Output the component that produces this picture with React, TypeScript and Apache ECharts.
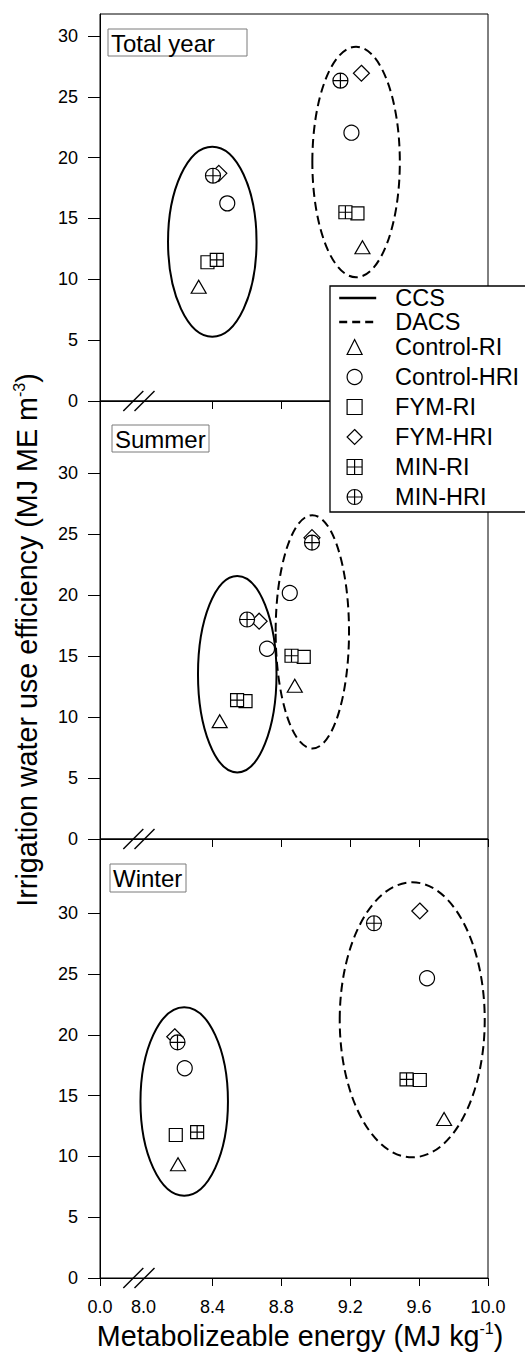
import React, { useEffect, useRef } from 'react';
import * as echarts from 'echarts';

const FONT = '"Liberation Sans", Arial, Helvetica, sans-serif';

const treatments = ['Control-RI', 'Control-HRI', 'FYM-RI', 'FYM-HRI', 'MIN-RI', 'MIN-HRI'];
const systems = ['CCS', 'DACS'];
const panelNames = ['Total year', 'Summer', 'Winter'];

// [x, y] per treatment (order as in `treatments`)
const totalYearCCS = [[8.320, 9.39], [8.486, 16.24], [8.371, 11.40], [8.437, 18.71], [8.425, 11.59], [8.403, 18.51]];
const totalYearDACS = [[9.271, 12.63], [9.207, 22.05], [9.242, 15.42], [9.265, 26.93], [9.172, 15.51], [9.143, 26.32]];
const summerCCS = [[8.442, 9.66], [8.717, 15.59], [8.592, 11.30], [8.671, 17.85], [8.543, 11.38], [8.601, 17.99]];
const summerDACS = [[8.878, 12.56], [8.849, 20.17], [8.930, 14.93], [8.978, 24.70], [8.859, 15.02], [8.978, 24.30]];
const winterCCS = [[8.200, 9.35], [8.239, 17.25], [8.187, 11.76], [8.181, 19.84], [8.311, 12.00], [8.197, 19.38]];
const winterDACS = [[9.745, 13.08], [9.646, 24.65], [9.604, 16.28], [9.604, 30.18], [9.527, 16.34], [9.338, 29.17]];

// ellipses [cx, cy, rx, ry] for CCS then DACS
const totalYearEllipses = [[8.399, 13.09, 0.257, 7.81], [9.234, 19.64, 0.254, 9.47]];
const summerEllipses = [[8.544, 13.51, 0.228, 8.05], [8.980, 16.98, 0.213, 9.56]];
const winterEllipses = [[8.236, 14.51, 0.254, 7.75], [9.560, 21.23, 0.421, 11.31]];

const yTicks = [0, 5, 10, 15, 20, 25, 30];
const xZeroPos = 7.747; // axis value where "0.0" sits (broken axis)
const xTicks = [xZeroPos, 8.4, 8.8, 9.2, 9.6, 10.0];
const xLabelValues = [xZeroPos, 8.0, 8.4, 8.8, 9.2, 9.6, 10.0];
const yMax = [31.8, 35.9, 36.1];

const panelCCS = [totalYearCCS, summerCCS, winterCCS];
const panelDACS = [totalYearDACS, summerDACS, winterDACS];
const panelEllipses = [totalYearEllipses, summerEllipses, winterEllipses];

// layout
const GRID_LEFT = 100;
const GRID_WIDTH = 388;
const gridTops = [14, 401, 839];
const gridHeights = [387, 438, 439];
const labelBoxes = [
  { x: 108, y: 29, w: 139, h: 27 },
  { x: 112, y: 425, w: 97, h: 27 },
  { x: 110, y: 864, w: 76, h: 28 },
];

const symbolDefs: Record<string, { symbol: string; size: number | number[] }> = {
  'Control-RI': { symbol: 'triangle', size: [15, 13] },
  'Control-HRI': { symbol: 'circle', size: 15 },
  'FYM-RI': { symbol: 'rect', size: 13 },
  'FYM-HRI': { symbol: 'diamond', size: [16, 16] },
  'MIN-RI': { symbol: 'path://M0,0L20,0L20,20L0,20ZM10,0L10,20M0,10L20,10', size: 13 },
  'MIN-HRI': { symbol: 'path://M0,10A10,10,0,1,1,20,10A10,10,0,1,1,0,10ZM10,0L10,20M0,10L20,10', size: 15 },
};

const AXIS_TITLE_SIZE = 28.7;

function buildOption() {
  const grid = gridTops.map((top, i) => ({
    left: GRID_LEFT,
    top,
    width: GRID_WIDTH,
    height: gridHeights[i],
    show: true,
    borderColor: '#000',
    borderWidth: 1,
    backgroundColor: 'transparent',
  }));

  const xAxis = gridTops.map((_, i) => ({
    type: 'value',
    gridIndex: i,
    min: xZeroPos,
    max: 10,
    axisLine: { show: true, onZero: false, lineStyle: { color: '#000', width: 1 } },
    axisTick: { show: true, length: 8, customValues: xTicks, lineStyle: { color: '#000', width: 1 } },
    axisLabel:
      i === 2
        ? {
            show: true,
            customValues: xLabelValues,
            formatter: (v: number) => (v < 7.9 ? '0.0' : Number(v).toFixed(1)),
            fontSize: 18,
            color: '#000',
            margin: 20,
            fontFamily: FONT,
          }
        : { show: false },
    splitLine: { show: false },
  }));

  const yAxis = gridTops.map((_, i) => ({
    type: 'value',
    gridIndex: i,
    min: 0,
    max: yMax[i],
    axisLine: { show: true, onZero: false, lineStyle: { color: '#000', width: 1 } },
    axisTick: { show: true, length: 12, customValues: yTicks, lineStyle: { color: '#000', width: 1 } },
    axisLabel: { show: true, customValues: yTicks, fontSize: 18, color: '#000', margin: 22, fontFamily: FONT },
    splitLine: { show: false },
  }));

  const series: any[] = [
    {
      type: 'line',
      name: systems[0],
      xAxisIndex: 0,
      yAxisIndex: 0,
      data: [],
      symbol: 'none',
      lineStyle: { color: '#000', width: 2.4, type: 'solid' },
      itemStyle: { color: 'rgba(0,0,0,0)', borderWidth: 0, opacity: 0 },
    },
    {
      type: 'line',
      name: systems[1],
      xAxisIndex: 0,
      yAxisIndex: 0,
      data: [],
      symbol: 'none',
      lineStyle: { color: '#000', width: 2.4, type: [8, 5] },
      itemStyle: { color: 'rgba(0,0,0,0)', borderWidth: 0, opacity: 0 },
    },
  ];

  gridTops.forEach((_, p) => {
    series.push({
      type: 'custom',
      name: panelNames[p] + ' ellipses',
      xAxisIndex: p,
      yAxisIndex: p,
      silent: true,
      clip: false,
      z: 4,
      encode: { x: 0, y: 1 },
      data: panelEllipses[p].map((e, k) => [e[0], e[1], e[2], e[3], k]),
      renderItem: (params: any, api: any) => {
        const c = api.coord([api.value(0), api.value(1)]);
        const s = api.size([api.value(2), api.value(3)]);
        const dashed = api.value(4) === 1;
        return {
          type: 'ellipse',
          shape: { cx: c[0], cy: c[1], rx: s[0], ry: s[1] },
          style: { fill: 'none', stroke: '#000', lineWidth: 2, lineDash: dashed ? [9, 5] : null },
        };
      },
    });
    treatments.forEach((t, k) => {
      const def = symbolDefs[t];
      series.push({
        type: 'scatter',
        name: t,
        xAxisIndex: p,
        yAxisIndex: p,
        symbol: def.symbol,
        symbolSize: def.size,
        z: 3,
        itemStyle: { color: '#fff', borderColor: '#000', borderWidth: 1.2, opacity: 1 },
        data: [panelCCS[p][k], panelDACS[p][k]],
      });
    });
  });

  const graphic: any[] = [
    {
      type: 'rect',
      shape: { x: 330, y: 286, width: 240, height: 226 },
      style: { fill: '#fff', stroke: '#000', lineWidth: 1.3 },
      z: 10,
    },
  ];

  labelBoxes.forEach((b, i) => {
    graphic.push({
      type: 'rect',
      shape: { x: b.x, y: b.y, width: b.w, height: b.h },
      style: { fill: '#fff', stroke: '#7a7a7a', lineWidth: 1 },
      z: 10,
    });
    graphic.push({
      type: 'text',
      x: b.x + 3,
      y: b.y + b.h / 2 + 0.5,
      z: 11,
      style: {
        text: panelNames[i],
        fontSize: 24,
        fontFamily: FONT,
        fill: '#000',
        align: 'left',
        verticalAlign: 'middle',
      },
    });
  });

  // axis break marks on each panel's x axis
  gridTops.forEach((top, i) => {
    const y0 = top + gridHeights[i];
    [133.3, 144.5].forEach((cx) => {
      graphic.push({
        type: 'line',
        shape: { x1: cx - 10, y1: y0 + 10, x2: cx + 10, y2: y0 - 10 },
        style: { stroke: '#000', lineWidth: 1.4 },
        z: 12,
      });
    });
  });

  const titleRich = {
    a: { fontSize: AXIS_TITLE_SIZE, fontFamily: FONT, fill: '#000', lineHeight: 32 },
    s: { fontSize: 16, fontFamily: FONT, fill: '#000', verticalAlign: 'top', lineHeight: 18 },
  };

  graphic.push({
    type: 'text',
    x: 27,
    y: 640,
    rotation: Math.PI / 2,
    z: 11,
    style: {
      text: '{a|Irrigation water use efficiency (MJ ME m}{s|-3}{a|)}',
      align: 'center',
      verticalAlign: 'middle',
      fill: '#000',
      fontSize: AXIS_TITLE_SIZE,
      fontFamily: FONT,
      rich: titleRich,
    },
  });

  graphic.push({
    type: 'text',
    x: 300,
    y: 1336,
    z: 11,
    style: {
      text: '{a|Metabolizeable energy (MJ kg}{s|-1}{a|)}',
      align: 'center',
      verticalAlign: 'middle',
      fill: '#000',
      fontSize: AXIS_TITLE_SIZE,
      fontFamily: FONT,
      rich: titleRich,
    },
  });

  const legendText = { fontSize: 23.5, fontFamily: FONT, color: '#000', lineHeight: 24 };

  const legend = [
    {
      data: systems,
      orient: 'vertical',
      left: 338,
      top: 286,
      itemWidth: 37,
      itemHeight: 15,
      itemGap: 0,
      padding: 0,
      selectedMode: false,
      z: 20,
      textStyle: { ...legendText, padding: [0, 0, 0, 14] },
      lineStyle: { width: 2.4 },
      itemStyle: { borderWidth: 0, opacity: 0 },
    },
    {
      data: treatments,
      orient: 'vertical',
      left: 346.5,
      top: 335,
      itemWidth: 15,
      itemHeight: 15,
      itemGap: 6,
      padding: 0,
      selectedMode: false,
      z: 20,
      textStyle: { ...legendText, padding: [0, 0, 0, 28] },
      itemStyle: { borderWidth: 1.2 },
    },
  ];

  return {
    animation: false,
    backgroundColor: '#fff',
    textStyle: { fontFamily: FONT },
    grid,
    xAxis,
    yAxis,
    series,
    legend,
    graphic,
  };
}

export default function App() {
  const ref = useRef<HTMLDivElement>(null);
  useEffect(() => {
    document.body.style.margin = '0';
    if (!ref.current) return;
    const chart = echarts.init(ref.current, undefined, { renderer: 'svg' });
    chart.setOption(buildOption() as any);
    return () => {
      chart.dispose();
    };
  }, []);
  return <div ref={ref} style={{ width: 525, height: 1358 }} />;
}
